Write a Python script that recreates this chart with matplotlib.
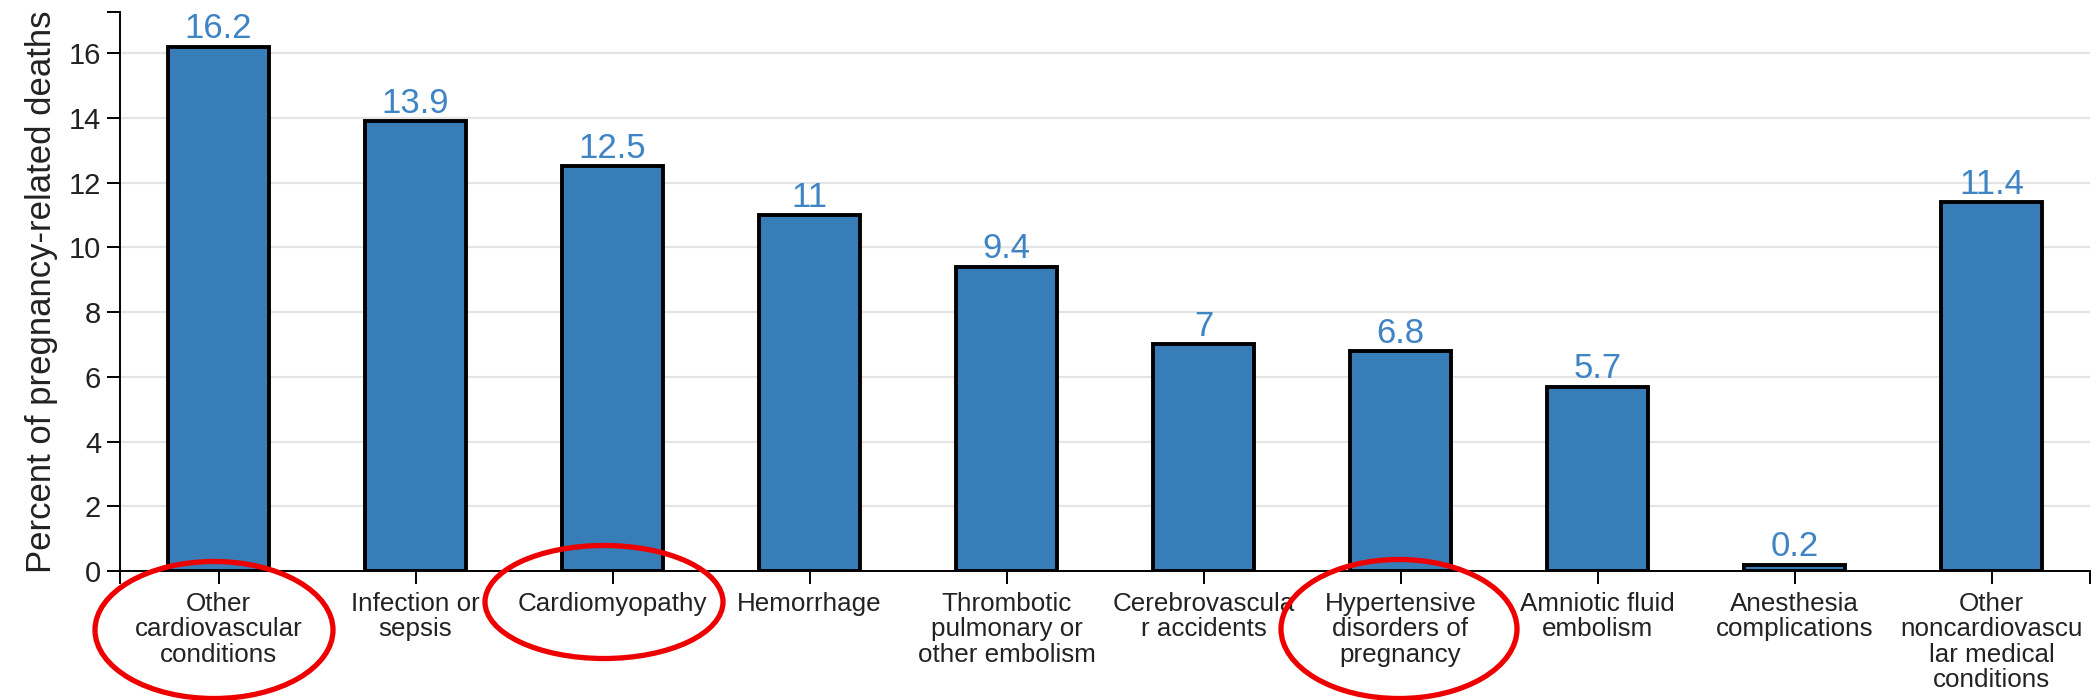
import matplotlib
matplotlib.use("Agg")
import matplotlib.pyplot as plt
from matplotlib.patches import Ellipse

plt.rcParams['font.family'] = ['Liberation Sans', 'DejaVu Sans']

categories = [
    "Other\ncardiovascular\nconditions",
    "Infection or\nsepsis",
    "Cardiomyopathy",
    "Hemorrhage",
    "Thrombotic\npulmonary or\nother embolism",
    "Cerebrovascula\nr accidents",
    "Hypertensive\ndisorders of\npregnancy",
    "Amniotic fluid\nembolism",
    "Anesthesia\ncomplications",
    "Other\nnoncardiovascu\nlar medical\nconditions",
]
values = [16.2, 13.9, 12.5, 11, 9.4, 7, 6.8, 5.7, 0.2, 11.4]
value_labels = ["16.2", "13.9", "12.5", "11", "9.4", "7", "6.8", "5.7", "0.2", "11.4"]
yticks = [0, 2, 4, 6, 8, 10, 12, 14, 16]
y_max = 17.27
ylabel = "Percent of pregnancy-related deaths"
highlighted = [0, 2, 6]

bar_color = "#377eb8"
label_color = "#3f84c4"

W, H = 2099, 700
fig = plt.figure(figsize=(W / 100, H / 100), dpi=100)
ax = fig.add_axes([120 / W, (H - 571) / H, 1970 / W, 559 / H])

x = list(range(len(categories)))
ax.bar(x, values, width=0.51, color=bar_color, edgecolor="black", linewidth=2.8, zorder=3)
for xi, v, lab in zip(x, values, value_labels):
    ax.annotate(lab, (xi, v), xytext=(0, 1.0), textcoords="offset points",
                ha="center", va="bottom", fontsize=25, color=label_color, zorder=4)

ax.set_xlim(-0.5, len(categories) - 0.5)
ax.set_ylim(0, y_max)
ax.set_yticks(yticks)
ax.set_yticklabels([str(t) for t in yticks], fontsize=21, color="#222222")
ax.set_xticks(x)
ax.set_xticklabels(categories, fontsize=18.7, linespacing=1.08, color="#222222")
ax.set_ylabel(ylabel, fontsize=25, labelpad=8, color="#222222")

# outer (domain) ticks like d3
ax.set_xticks([-0.5, len(categories) - 0.5], minor=True)
ax.set_yticks([y_max], minor=True)
ax.tick_params(axis="x", which="both", length=9, width=1.4, color="black", pad=6)
ax.tick_params(axis="y", which="both", length=9.5, width=1.4, color="black", pad=4)

ax.spines["top"].set_visible(False)
ax.spines["right"].set_visible(False)
ax.spines["left"].set_linewidth(1.4)
ax.spines["bottom"].set_linewidth(1.4)
ax.spines["bottom"].set_zorder(5)

ax.yaxis.grid(True, color="#e4e4e4", linewidth=1.6, zorder=0)
ax.set_axisbelow(True)

# red highlight ellipses around selected labels
ell_specs = {0: (214, 630, 238, 137), 2: (604, 602, 238, 113), 6: (1399, 629, 236, 139)}
for i in highlighted:
    cx, cy, w, h = ell_specs[i]
    e = Ellipse((cx / W, 1 - cy / H), w / W, h / H, transform=fig.transFigure,
                fill=False, edgecolor="#ee0000", linewidth=3.8, clip_on=False, zorder=10)
    fig.add_artist(e)

fig.savefig("out.png", dpi=100)
